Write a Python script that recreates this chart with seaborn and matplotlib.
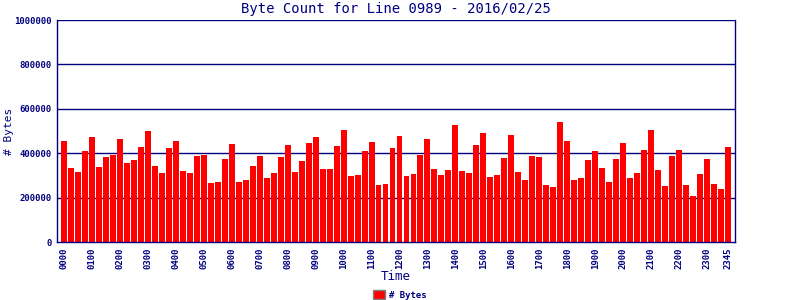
import matplotlib
matplotlib.use("Agg")
import matplotlib.pyplot as plt
import seaborn as sns
import pandas as pd
from matplotlib.patches import Patch

times = [f"{h:02d}{m:02d}" for h in range(24) for m in (0, 15, 30, 45)]
byte_counts = [
    455000, 333000, 315000, 410000, 473000, 338000, 383000, 392000,
    464000, 356000, 369000, 428000, 500000, 342000, 311000, 423000,
    455000, 320000, 311000, 387000, 392000, 266000, 270000, 374000,
    441000, 270000, 279000, 342000, 387000, 288000, 311000, 383000,
    437000, 315000, 365000, 446000, 473000, 329000, 329000, 432000,
    505000, 297000, 302000, 410000, 450000, 257000, 261000, 423000,
    477000, 297000, 306000, 392000, 464000, 329000, 302000, 324000,
    527000, 320000, 311000, 437000, 491000, 293000, 302000, 378000,
    482000, 315000, 279000, 387000, 383000, 257000, 248000, 541000,
    455000, 279000, 288000, 369000, 410000, 333000, 270000, 374000,
    446000, 288000, 311000, 414000, 505000, 324000, 252000, 387000,
    414000, 257000, 207000, 306000, 374000, 261000, 239000, 428000,
]
tick_labels = [f"{h:02d}00" for h in range(24)] + ["2345"]
y_ticks = [0, 200000, 400000, 600000, 800000, 1000000]

NAVY = "#000080"
sns.set_theme(style="white")
plt.rcParams["font.family"] = ["DejaVu Sans Mono", "DejaVu Sans"]

df = pd.DataFrame({"Time": times, "Bytes": byte_counts})

fig = plt.figure(figsize=(8, 3), dpi=100)
ax = fig.add_axes([57 / 800, 1 - 242 / 300, (735 - 57) / 800, (242 - 20) / 300])
sns.barplot(data=df, x="Time", y="Bytes", order=times, color="#ff0000",
            saturation=1, width=0.85, ax=ax, linewidth=0)

ax.set_xlim(-1, 96)
ax.set_ylim(0, 1000000)
ax.set_yticks(y_ticks)
ax.set_yticklabels([str(v) for v in y_ticks], fontsize=6.5, color=NAVY, fontweight="bold")
tick_pos = list(range(0, 96, 4)) + [95]
ax.set_xticks(tick_pos)
ax.set_xticklabels(tick_labels, rotation=90, fontsize=6.5, color=NAVY, fontweight="bold")
ax.tick_params(axis="both", length=2, color=NAVY, pad=2)

for v in y_ticks[1:]:
    ax.axhline(v, color=NAVY, linewidth=1.0, zorder=0)

for side in ["left", "right", "bottom"]:
    ax.spines[side].set_visible(True)
    ax.spines[side].set_color(NAVY)
    ax.spines[side].set_linewidth(1.0)
ax.spines["top"].set_visible(False)

ax.set_xlabel("")
ax.set_ylabel("")
fig.text(396 / 800, 1 - 277 / 300, "Time", color=NAVY, fontsize=9, ha="center", va="center")
fig.text(9 / 800, 1 - 131 / 300, "# Bytes", color=NAVY, fontsize=8, ha="center",
         va="center", rotation=90)
ax.set_title("Byte Count for Line 0989 - 2016/02/25", color=NAVY, fontsize=10, pad=5)

handle = Patch(facecolor="#ff0000", edgecolor="#808080", linewidth=1)
fig.legend([handle], ["# Bytes"], loc="center", bbox_to_anchor=(400 / 800, 1 - 295 / 300),
           frameon=False, labelcolor=NAVY, handlelength=1.35, borderpad=0.1,
           handleheight=1.1, handletextpad=0.4, prop={"weight": "bold", "size": 6.5})

fig.savefig("out.png", dpi=100)
